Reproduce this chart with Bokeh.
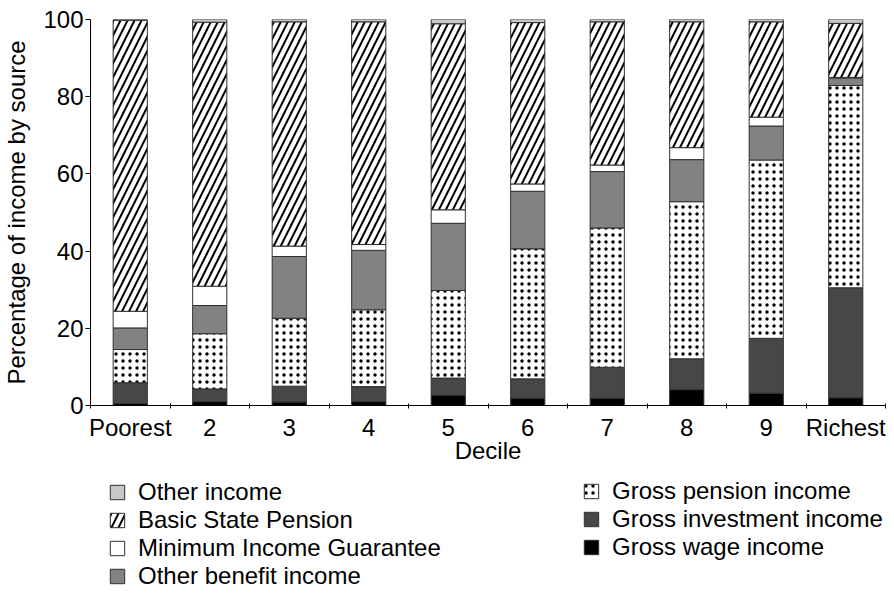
from bokeh.plotting import figure, ColumnDataSource
from bokeh.models import Range1d, FixedTicker, Legend, LegendItem
from bokeh.layouts import column
from bokeh.transform import stack
from bokeh.embed import file_html
from bokeh.resources import INLINE

deciles = ["Poorest", "2", "3", "4", "5", "6", "7", "8", "9", "Richest"]
gross_wage = [0.5, 1.0, 0.9, 1.0, 2.6, 1.9, 1.9, 4.1, 3.2, 2.0]
gross_investment = [5.4, 3.3, 4.1, 3.9, 4.5, 5.0, 8.0, 8.0, 14.2, 28.5]
gross_pension = [8.6, 14.3, 17.6, 19.9, 22.7, 33.7, 36.1, 40.7, 46.2, 52.4]
other_benefit = [5.6, 7.3, 16.0, 15.4, 17.4, 14.9, 14.6, 10.9, 8.8, 1.9]
min_income_guarantee = [4.3, 5.0, 2.7, 1.5, 3.5, 1.9, 1.7, 3.1, 2.3, 0.2]
basic_state_pension = [75.4, 68.4, 58.1, 57.7, 48.2, 41.8, 37.1, 32.6, 24.7, 14.0]
other_income = [0.2, 0.7, 0.6, 0.6, 1.1, 0.8, 0.6, 0.6, 0.6, 1.0]

series = [
    ("wage", "Gross wage income", gross_wage),
    ("invest", "Gross investment income", gross_investment),
    ("pension", "Gross pension income", gross_pension),
    ("benefit", "Other benefit income", other_benefit),
    ("mig", "Minimum Income Guarantee", min_income_guarantee),
    ("bsp", "Basic State Pension", basic_state_pension),
    ("other", "Other income", other_income),
]
styles = {
    "wage": dict(fill_color="#000000"),
    "invest": dict(fill_color="#474747"),
    "pension": dict(fill_color="#ffffff", hatch_pattern=".", hatch_scale=7, hatch_weight=2.8),
    "benefit": dict(fill_color="#828282"),
    "mig": dict(fill_color="#ffffff"),
    "bsp": dict(fill_color="#ffffff", hatch_pattern="/", hatch_scale=14, hatch_weight=2),
    "other": dict(fill_color="#c8c8c8"),
}
keys = [k for k, _, _ in series]
labels = {k: lab for k, lab, _ in series}


def style_kw(k):
    s = styles[k]
    kw = dict(fill_color=s["fill_color"], line_color="#303030", line_width=1)
    if "hatch_pattern" in s:
        kw.update(hatch_pattern=s["hatch_pattern"], hatch_color="#000000",
                  hatch_scale=s["hatch_scale"], hatch_weight=s["hatch_weight"])
    return kw


FONT = "Liberation Sans"
xs = [i + 0.5 for i in range(len(deciles))]
data = dict(x=xs)
for key, _, vals in series:
    data[key] = vals
source = ColumnDataSource(data)

p = figure(frame_width=795, frame_height=386, min_border_left=90, min_border_right=9,
           min_border_top=19, min_border_bottom=72,
           x_range=Range1d(0, len(deciles)), y_range=Range1d(0, 100),
           output_backend="svg", toolbar_location=None)
p.outline_line_color = None
p.xgrid.visible = False
p.ygrid.visible = False

for i, k in enumerate(keys):
    p.vbar(x="x", width=0.43, source=source,
           bottom=stack(*keys[:i]), top=stack(*keys[:i + 1]), **style_kw(k))

xa = p.xaxis[0]
xa.ticker = FixedTicker(ticks=xs, minor_ticks=list(range(0, len(deciles) + 1)))
xa.major_label_overrides = {x: d for x, d in zip(xs, deciles)}
xa.major_tick_out = 0
xa.major_tick_in = 0
xa.minor_tick_out = 3
xa.minor_tick_in = 2
xa.major_label_standoff = 5
xa.axis_label = "Decile"
xa.axis_label_standoff = -7
xa.axis_label_text_font_style = "normal"

ya = p.yaxis[0]
ya.ticker = FixedTicker(ticks=[0, 20, 40, 60, 80, 100])
ya.major_tick_in = 0
ya.major_tick_out = 5
ya.major_label_standoff = 2
ya.axis_label = "Percentage of income by source"
ya.axis_label_standoff = 10
ya.axis_label_text_font_style = "normal"

for ax in (xa, ya):
    ax.axis_line_color = "#000000"
    ax.major_tick_line_color = "#000000"
    ax.major_label_text_font = FONT
    ax.major_label_text_font_size = "24px"
    ax.major_label_text_color = "#000000"
    ax.axis_label_text_font = FONT
    ax.axis_label_text_font_size = "24px"
    ax.axis_label_text_color = "#000000"
xa.minor_tick_line_color = "#000000"
ya.minor_tick_line_color = None

# legend panel: same series, whose bars fall below this panel's visible range,
# so only the legend swatches and labels show
lf = figure(frame_width=795, frame_height=124, min_border_left=90, min_border_right=9,
            min_border_top=0, min_border_bottom=0, x_axis_type=None, y_axis_type=None,
            x_range=Range1d(0, len(deciles)), y_range=Range1d(200, 300),
            output_backend="svg", toolbar_location=None)
lf.outline_line_color = None
lf.xgrid.visible = False
lf.ygrid.visible = False
lrs = {}
for i, k in enumerate(keys):
    lrs[k] = lf.vbar(x="x", width=0.43, source=source,
                     bottom=stack(*keys[:i]), top=stack(*keys[:i + 1]), **style_kw(k))


def make_legend(ks, loc):
    lg = Legend(items=[LegendItem(label=labels[k], renderers=[lrs[k]]) for k in ks],
                location=loc, orientation="vertical")
    lg.label_text_font = FONT
    lg.label_text_font_size = "24px"
    lg.label_text_color = "#000000"
    lg.glyph_width = 18
    lg.glyph_height = 18
    lg.label_height = 28
    lg.label_standoff = 12
    lg.spacing = 0
    lg.padding = 0
    lg.margin = 0
    lg.border_line_color = None
    lg.background_fill_alpha = 0
    return lg


lf.add_layout(make_legend(["other", "bsp", "mig", "benefit"], (18, 11)), "center")
lf.add_layout(make_legend(["pension", "invest", "wage"], (492, 40)), "center")

layout = column(p, lf, spacing=0)
open("out.html", "w").write(file_html(layout, INLINE))
